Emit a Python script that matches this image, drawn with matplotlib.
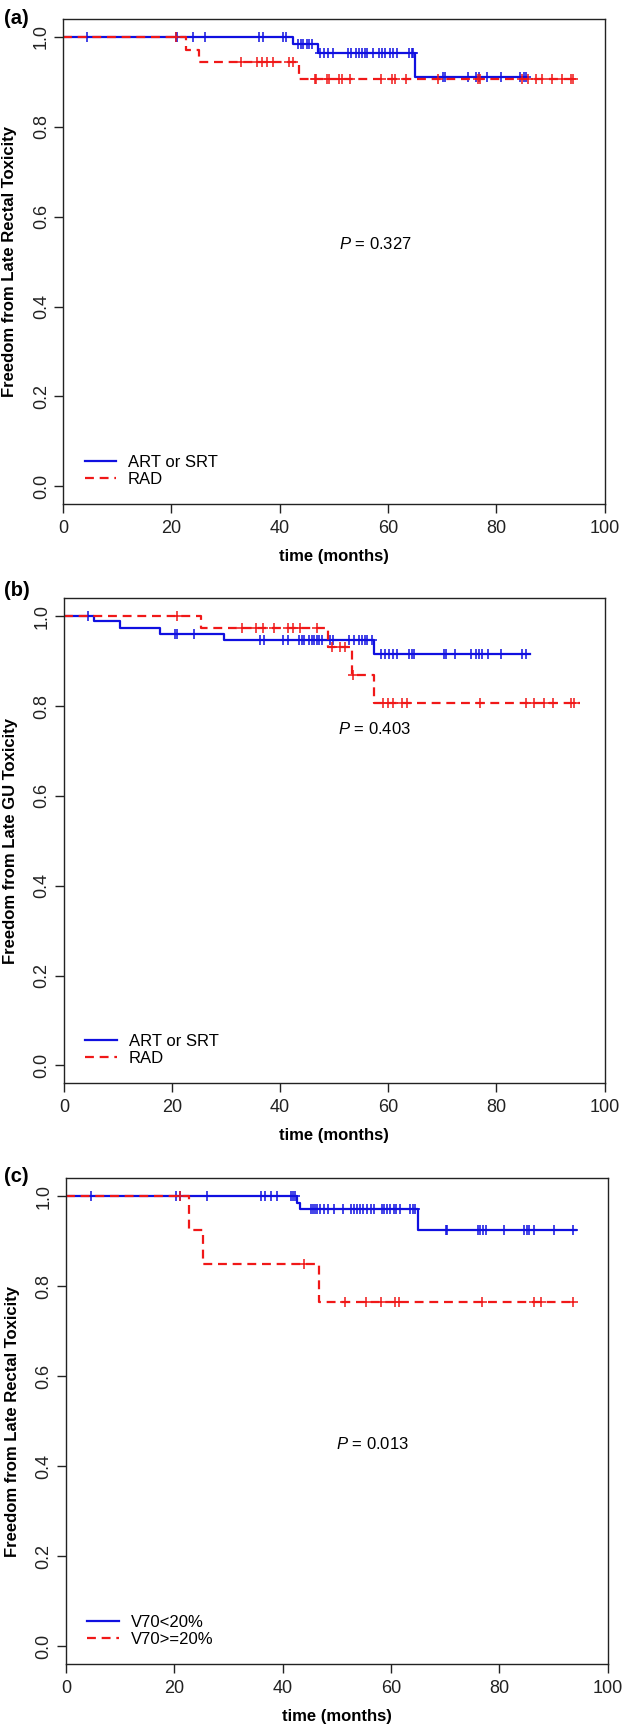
import numpy as np
import matplotlib.pyplot as plt

plt.rcParams['font.family'] = ['Liberation Sans', 'DejaVu Sans']
plt.rcParams['mathtext.fontset'] = 'custom'
plt.rcParams['mathtext.it'] = 'Liberation Sans:italic'
plt.rcParams['mathtext.rm'] = 'Liberation Sans'

# ---- data (time in months, survival level after each drop) ----
# (a) late rectal toxicity, ART/SRT vs RAD
a_blue_t = [42.4, 47.0, 65.0]
a_blue_s = [0.984, 0.964, 0.911]
a_blue_end = 85.6
a_blue_cens = [4.4, 20.8, 21.1, 24.0, 26.2, 36.1, 36.9, 40.6, 41.2,
               43.3, 43.9, 44.4, 45.0, 45.5, 46.0,
               47.5, 48.2, 49.0, 49.9, 52.7, 53.1, 54.1, 54.6, 55.2, 55.8, 56.2,
               57.3, 58.4, 58.9, 59.5, 60.3, 60.9, 61.6, 63.9, 64.4, 64.7,
               70.1, 70.5, 74.8, 76.3, 76.8, 78.2, 80.8, 84.4, 85.1, 85.5]
a_red_t = [22.7, 25.2, 43.6]
a_red_s = [0.972, 0.944, 0.907]
a_red_end = 94.1
a_red_cens = [20.8, 32.8, 35.8, 36.7, 37.6, 38.8, 41.8, 42.4,
              46.5, 46.8, 48.7, 49.2, 51.0, 51.5, 52.9, 58.8, 60.7, 61.3, 63.3,
              69.3, 76.7, 77.0, 84.8, 85.9, 87.3, 88.4, 90.3, 92.1, 93.7, 94.1]

# (b) late GU toxicity, ART/SRT vs RAD
b_blue_t = [5.6, 10.4, 17.7, 29.6, 57.4]
b_blue_s = [0.990, 0.974, 0.961, 0.947, 0.917]
b_blue_end = 86.2
b_blue_cens = [4.5, 20.6, 20.9, 24.1,
               36.2, 37.0, 40.6, 41.5, 43.5, 44.0, 44.4, 45.4, 45.8, 46.3, 46.8,
               47.2, 47.7, 49.2, 49.8, 52.8, 53.7, 54.5, 55.1, 55.7, 56.1, 56.9,
               58.6, 59.4, 60.2, 60.8, 61.6, 63.9, 64.3, 64.8, 70.3, 70.7, 72.3,
               75.2, 76.3, 76.8, 77.3, 78.5, 80.9, 84.7, 85.5]
b_red_t = [25.3, 48.9, 53.2, 57.4]
b_red_s = [0.973, 0.932, 0.869, 0.807]
b_red_end = 95.4
b_red_cens = [21.0, 32.9, 35.6, 36.8, 38.8, 41.5, 42.4, 43.7, 46.9,
              49.5, 51.1, 52.0, 53.4,
              59.0, 60.0, 60.9, 62.5, 63.4, 76.9, 85.5, 87.0, 88.8, 90.5, 93.7, 94.3]

# (c) late rectal toxicity, V70<20% vs V70>=20%
c_blue_t = [42.6, 43.3, 64.9]
c_blue_s = [0.986, 0.972, 0.925]
c_blue_end = 94.1
c_blue_cens = [4.6, 20.4, 21.0, 26.1, 36.0, 36.8, 37.9, 39.0, 41.5, 41.9, 42.3,
               45.2, 45.6, 46.0, 46.4, 46.9, 47.6, 48.4, 49.4, 51.2, 52.6, 53.2,
               53.8, 54.3, 54.9, 55.5, 56.3, 56.9, 58.3, 58.7, 59.2, 59.9, 60.6,
               61.0, 61.7, 63.5, 64.0, 64.4,
               70.1, 70.4, 76.1, 76.5, 77.0, 77.5, 80.9, 84.6, 85.0, 85.5, 86.4,
               90.1, 93.5]
c_red_t = [22.7, 25.4, 46.7]
c_red_s = [0.925, 0.849, 0.765]
c_red_end = 94.1
c_red_cens = [21.1, 43.9, 51.5, 55.4, 58.1, 60.7, 61.4, 76.8, 86.4, 87.7, 93.5]

panel_tags = ['(a)', '(b)', '(c)']
ylabels = ['Freedom from Late Rectal Toxicity', 'Freedom from Late GU Toxicity',
           'Freedom from Late Rectal Toxicity']
legend_labels = [['ART or SRT', 'RAD'], ['ART or SRT', 'RAD'], ['V70<20%', 'V70>=20%']]
p_texts = ['0.327', '0.403', '0.013']
p_pos = [(57.7, 0.54), (57.5, 0.75), (56.5, 0.45)]


def draw_km(ax, t, s, end, cens, color, ls, label):
    x = [0] + t + [end]
    y = [1.0] + s + [s[-1]]
    line, = ax.step(x, y, where='post', color=color, lw=1.6, label=label)
    if ls == 'dashed':
        line.set_dashes([4, 2.6])
    lev = np.array([1.0] + s)
    cy = lev[np.searchsorted(t, cens, side='right')]
    ax.plot(cens, cy, ls='none', marker='+', ms=6.5, mew=1.1, color=color)
    return line


fig = plt.figure(figsize=(6.25, 17.25), dpi=100)
boxes = [(0.1008, 0.70765, 0.8666, 0.28133),
         (0.1021, 0.37200, 0.8653, 0.28116),
         (0.1053, 0.03536, 0.8672, 0.28157)]
tag_y = [18.3, 590, 1176.7]

curves = [(a_blue_t, a_blue_s, a_blue_end, a_blue_cens, a_red_t, a_red_s, a_red_end, a_red_cens),
          (b_blue_t, b_blue_s, b_blue_end, b_blue_cens, b_red_t, b_red_s, b_red_end, b_red_cens),
          (c_blue_t, c_blue_s, c_blue_end, c_blue_cens, c_red_t, c_red_s, c_red_end, c_red_cens)]

for i in range(3):
    ax = fig.add_axes(boxes[i])
    bt, bs, be, bc, rt, rs, re, rc = curves[i]
    l1 = draw_km(ax, bt, bs, be, bc, '#1010e0', 'solid', legend_labels[i][0])
    l2 = draw_km(ax, rt, rs, re, rc, '#f01818', 'dashed', legend_labels[i][1])

    ax.set_xlim(0, 100)
    ax.set_ylim(-0.04, 1.04)
    ax.set_xticks([0, 20, 40, 60, 80, 100])
    ax.set_yticks([0.0, 0.2, 0.4, 0.6, 0.8, 1.0])
    ax.set_yticklabels(['0.0', '0.2', '0.4', '0.6', '0.8', '1.0'])
    ax.tick_params(direction='out', length=6.5, width=1.0, labelsize=13, colors='#222222')
    ax.tick_params(axis='x', pad=5)
    ax.tick_params(axis='y', pad=3, labelrotation=90)
    for lab in ax.get_yticklabels():
        lab.set_va('center')
    for sp in ax.spines.values():
        sp.set_linewidth(1.0)
        sp.set_color('#222222')

    ax.set_xlabel('time (months)', fontsize=12, fontweight='bold')
    ax.xaxis.set_label_coords(0.5, -0.093)
    ax.set_ylabel(ylabels[i], fontsize=12, fontweight='bold')
    ax.yaxis.set_label_coords(-0.085, 0.5)

    ax.text(p_pos[i][0], p_pos[i][1], r'$P$ = ' + p_texts[i], fontsize=12,
            ha='center', va='center')

    ax.legend(handles=[l1, l2], loc='lower left', bbox_to_anchor=(0.04, 0.035),
              frameon=False, fontsize=12, handlelength=1.9, handletextpad=0.7,
              labelspacing=0.15, borderpad=0, borderaxespad=0)

    fig.text(4 / 625, 1 - tag_y[i] / 1725, panel_tags[i], fontsize=14.5,
             fontweight='bold', ha='left', va='center')

fig.savefig('out.png', dpi=100)
